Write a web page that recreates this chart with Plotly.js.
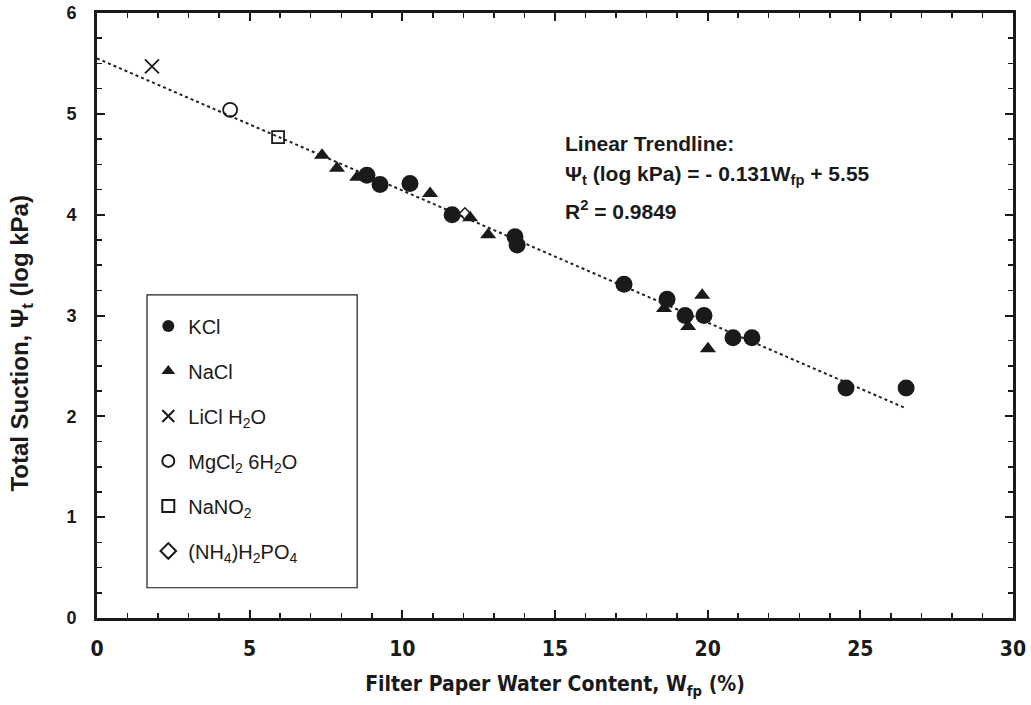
<!DOCTYPE html>
<html>
<head>
<meta charset="utf-8">
<script src="https://cdn.plot.ly/plotly-3.0.1.min.js"></script>
<style>html,body{margin:0;padding:0;background:#fff;}#chart{width:1031px;height:705px;}</style>
</head>
<body>
<div id="chart"></div>
<script>
// Data
const kclX = [8.84, 9.27, 10.25, 11.63, 13.69, 13.76, 17.26, 18.67, 19.26, 19.88, 20.83, 21.45, 24.53, 26.50];
const kclY = [4.39, 4.30, 4.31, 4.00, 3.78, 3.70, 3.31, 3.16, 3.00, 3.00, 2.78, 2.78, 2.28, 2.28];
const naclX = [7.37, 7.86, 8.52, 10.91, 12.22, 12.81, 18.57, 19.36, 19.82, 20.01];
const naclY = [4.59, 4.46, 4.37, 4.21, 3.97, 3.80, 3.07, 2.89, 3.20, 2.67];
const liclX = [1.80];
const liclY = [5.47];
const mgclX = [4.36];
const mgclY = [5.04];
const nano2X = [5.93];
const nano2Y = [4.77];
const nh4X = [12.05];
const nh4Y = [4.01];
const trendSlope = -0.131;
const trendIntercept = 5.55;
const trendX = [0, 26.5];
const trendY = trendX.map(x => trendSlope * x + trendIntercept);

const names = ['KCl', 'NaCl', 'LiCl H<sub>2</sub>O', 'MgCl<sub>2</sub> 6H<sub>2</sub>O', 'NaNO<sub>2</sub>', '(NH<sub>4</sub>)H<sub>2</sub>PO<sub>4</sub>'];
const yTitle = '<b>Total Suction, Ψ<sub>t</sub> (log kPa)</b>';
const xTitle = '<b>Filter Paper Water Content, W<sub>fp</sub> (%)</b>';

const traces = [
  {x: trendX, y: trendY, mode: 'lines', line: {color: '#222', width: 2, dash: 'dot'}, showlegend: false, hoverinfo: 'skip'},
  {x: kclX, y: kclY, name: names[0], legendgroup: 'a', mode: 'markers', marker: {symbol: 'circle', size: 17, color: '#1a1a1a'}},
  {x: naclX, y: naclY, name: names[1], legendgroup: 'b', mode: 'markers', marker: {symbol: 'triangle-up', size: 14, color: '#1a1a1a'}},
  {x: liclX, y: liclY, name: names[2], legendgroup: 'c', mode: 'markers', marker: {symbol: 'x-thin-open', size: 14, color: '#1a1a1a', line: {width: 1.8, color: '#1a1a1a'}}},
  {x: mgclX, y: mgclY, name: names[3], legendgroup: 'd', mode: 'markers', marker: {symbol: 'circle-open', size: 14, color: '#1a1a1a', line: {width: 1.8}}},
  {x: nano2X, y: nano2Y, name: names[4], legendgroup: 'e', mode: 'markers', marker: {symbol: 'square-open', size: 12, color: '#1a1a1a', line: {width: 1.8}}},
  {x: nh4X, y: nh4Y, name: names[5], legendgroup: 'f', mode: 'markers', marker: {symbol: 'diamond-open', size: 9, color: '#1a1a1a', line: {width: 1.5}}}
];

const narrow = '"DejaVu Sans Condensed", "Liberation Sans Narrow", "Arial Narrow", "Liberation Sans", Arial, sans-serif';
const sans = '"Liberation Sans", Arial, sans-serif';

const layout = {
  width: 1031, height: 705,
  margin: {l: 97, r: 18, t: 13, b: 87},
  paper_bgcolor: '#fff', plot_bgcolor: '#fff',
  font: {family: sans, size: 18, color: '#1a1a1a'},
  showlegend: true,
  legend: {
    x: 0.056, y: 0.515, xanchor: 'left', yanchor: 'top',
    bgcolor: 'rgba(0,0,0,0)', borderwidth: 0,
    font: {family: sans, size: 20, color: '#1a1a1a'},
    traceorder: 'grouped', tracegroupgap: 16, itemsizing: 'constant'
  },
  xaxis: {
    range: [0, 30], dtick: 5, tick0: 0,
    showgrid: false, zeroline: false,
    showline: true, linewidth: 3, linecolor: '#1a1a1a', mirror: 'ticks',
    ticks: 'inside', ticklen: 8, tickwidth: 2, tickcolor: '#1a1a1a',
    minor: {dtick: 1, ticks: 'inside', ticklen: 5, tickwidth: 1.5, tickcolor: '#1a1a1a', showgrid: false},
    tickfont: {family: narrow, size: 21, color: '#1a1a1a', weight: 'bold'},
    ticklabelstandoff: 10,
    title: {text: xTitle, font: {family: narrow, size: 21, color: '#1a1a1a'}, standoff: 17}
  },
  yaxis: {
    range: [0, 6], dtick: 1, tick0: 0,
    showgrid: false, zeroline: false,
    showline: true, linewidth: 3, linecolor: '#1a1a1a', mirror: 'ticks',
    ticks: 'inside', ticklen: 8, tickwidth: 2, tickcolor: '#1a1a1a',
    minor: {dtick: 0.25, ticks: 'inside', ticklen: 5, tickwidth: 1.5, tickcolor: '#1a1a1a', showgrid: false},
    tickfont: {family: sans, size: 18, color: '#1a1a1a', weight: 'bold'},
    ticklabelstandoff: 14
  },
  shapes: [
    {type: 'rect', xref: 'paper', yref: 'paper', x0: 0.0546, x1: 0.284, y0: 0.050, y1: 0.534, line: {color: '#1a1a1a', width: 1.2}, fillcolor: 'rgba(0,0,0,0)'}
  ],
  annotations: [
    {xref: 'paper', yref: 'paper', x: -0.082, y: 0.455, xanchor: 'center', yanchor: 'middle', textangle: -90, showarrow: false, text: yTitle, font: {family: sans, size: 24, color: '#1a1a1a'}},
    {xref: 'x', yref: 'y', x: 15.26, y: 4.71, xanchor: 'left', yanchor: 'middle', showarrow: false, text: '<b>Linear Trendline:</b>', font: {family: sans, size: 21, color: '#1a1a1a'}},
    {xref: 'x', yref: 'y', x: 15.26, y: 4.39, xanchor: 'left', yanchor: 'middle', showarrow: false, text: '<b>Ψ<sub>t</sub> (log kPa) = - 0.131W<sub>fp</sub> + 5.55</b>', font: {family: sans, size: 21, color: '#1a1a1a'}},
    {xref: 'x', yref: 'y', x: 15.26, y: 4.05, xanchor: 'left', yanchor: 'middle', showarrow: false, text: '<b>R<sup>2</sup> = 0.9849</b>', font: {family: sans, size: 21, color: '#1a1a1a'}}
  ]
};

Plotly.newPlot('chart', traces, layout, {staticPlot: true, displayModeBar: false});
</script>
</body>
</html>
